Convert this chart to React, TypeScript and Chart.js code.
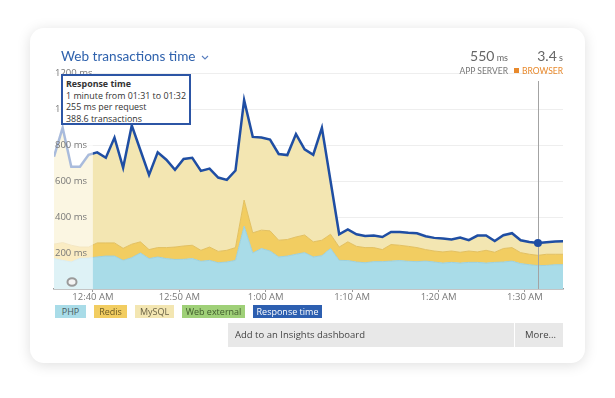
import React, { useEffect, useRef } from "react";
import { Chart, registerables } from "chart.js";

Chart.register(...registerables);

// minutes after 12:00 AM, each point is the middle of a one-minute bucket
const minutes = [
  35.5, 36.5, 37.5, 38.5, 39.5, 40.5, 41.5, 42.5, 43.5, 44.5, 45.5, 46.5, 47.5, 48.5, 49.5,
  50.5, 51.5, 52.5, 53.5, 54.5, 55.5, 56.5, 57.5, 58.5, 59.5, 60.5, 61.5, 62.5, 63.5, 64.5,
  65.5, 66.5, 67.5, 68.5, 69.5, 70.5, 71.5, 72.5, 73.5, 74.5, 75.5, 76.5, 77.5, 78.5, 79.5,
  80.5, 81.5, 82.5, 83.5, 84.5, 85.5, 86.5, 87.5, 88.5, 89.5, 90.5, 91.5, 92.5, 93.5, 94.5,
];

const php = [
  169, 159, 150, 170, 172, 178, 183, 183, 159, 174, 200, 169, 178, 169, 164,
  165, 169, 154, 159, 146, 150, 159, 349, 200, 225, 211, 178, 183, 193, 202,
  178, 185, 225, 159, 158, 150, 146, 152, 152, 155, 158, 154, 152, 155, 150,
  144, 148, 144, 148, 148, 144, 148, 150, 155, 141, 135, 130, 131, 135, 135,
];

const redis = [
  80, 99, 93, 63, 61, 78, 73, 73, 67, 75, 62, 50, 52, 61, 69,
  74, 74, 61, 74, 63, 65, 71, 145, 112, 102, 112, 93, 92, 96, 98,
  84, 86, 79, 74, 104, 87, 84, 78, 67, 92, 85, 83, 78, 64, 61,
  62, 63, 60, 63, 58, 71, 56, 75, 75, 61, 58, 57, 62, 58, 58,
];

const mysql = [
  486, 638, 436, 446, 513, 503, 473, 585, 447, 659, 509, 415, 529, 488, 429,
  483, 486, 441, 436, 410, 391, 428, 555, 533, 515, 507, 475, 461, 572, 476,
  484, 624, 296, 71, 69, 67, 65, 67, 70, 70, 73, 75, 80, 74, 73,
  74, 64, 82, 60, 85, 82, 63, 74, 80, 69, 68, 68, 67, 71, 72,
];

const webExternal = [
  0, 0, 0, 0, 0, 0, 0, 0, 0, 0, 0, 0, 0, 0, 0,
  0, 0, 0, 0, 0, 0, 0, 0, 0, 0, 0, 4, 8, 0, 0,
  0, 0, 0, 0, 0, 0, 0, 0, 0, 0, 0, 0, 0, 0, 0,
  0, 0, 0, 0, 6, 0, 0, 0, 0, 0, 0, 0, 0, 0, 0,
];

const responseTime = [
  735, 896, 679, 679, 746, 759, 729, 841, 673, 908, 771, 634, 759, 718, 662,
  722, 729, 656, 669, 619, 606, 658, 1049, 845, 842, 830, 750, 744, 861, 776,
  746, 895, 600, 304, 331, 304, 295, 297, 289, 317, 316, 312, 310, 293, 284,
  280, 275, 286, 271, 297, 297, 267, 299, 310, 271, 261, 255, 260, 264, 265,
];

const xTickValues = [40, 50, 60, 70, 80, 90];
const xTickLabels = ["12:40 AM", "12:50 AM", "1:00 AM", "1:10 AM", "1:20 AM", "1:30 AM"];
const yTickValues = [200, 400, 600, 800, 1000, 1200];
const yTickLabels = ["200 ms", "400 ms", "600 ms", "800 ms", "1000 ms", "1200 ms"];

const xMin = 35.5;
const xMax = 94.4;
const fadeUntil = 40;
const hoverMinute = 91.5;

const legendItems = [
  { label: "PHP", bg: "#a9dce8", fg: "#4a5a60", w: 31 },
  { label: "Redis", bg: "#f2cd61", fg: "#6b5a24", w: 33 },
  { label: "MySQL", bg: "#f3e6b2", fg: "#6b6346", w: 39 },
  { label: "Web external", bg: "#9fd078", fg: "#3f5a2c", w: 63 },
  { label: "Response time", bg: "#2d5fb0", fg: "#ffffff", w: 69 },
];

const FONT = "'Open Sans', 'Noto Sans', sans-serif";
const TITLE_FONT = "Lato, 'Open Sans', sans-serif";

export default function App() {
  const canvasRef = useRef<HTMLCanvasElement | null>(null);

  useEffect(() => {
    const canvas = canvasRef.current;
    if (!canvas) return;
    const toXY = (arr: number[]) => arr.map((v, i) => ({ x: minutes[i], y: v }));
    const hoverIndex = minutes.indexOf(hoverMinute);

    const overlayPlugin = {
      id: "overlays",
      beforeDatasetDraw(chart: any, args: any) {
        if (args.index !== 4) return;
        const { ctx, chartArea } = chart;
        const x = Math.round(chart.scales.x.getPixelForValue(hoverMinute)) + 0.5;
        ctx.save();
        ctx.strokeStyle = "#a3a3a3";
        ctx.lineWidth = 1;
        ctx.beginPath();
        ctx.moveTo(x, chartArea.top + 8);
        ctx.lineTo(x, chartArea.bottom);
        ctx.stroke();
        ctx.restore();
      },
      afterDatasetsDraw(chart: any) {
        const { ctx, chartArea } = chart;
        const fx = chart.scales.x.getPixelForValue(fadeUntil);
        ctx.save();
        ctx.fillStyle = "rgba(255,255,255,0.62)";
        ctx.fillRect(chartArea.left, chartArea.top, fx - chartArea.left, chartArea.bottom - chartArea.top);
        // small ring icon
        ctx.beginPath();
        ctx.ellipse(chartArea.left + 18, chartArea.bottom - 7, 4.5, 3.8, 0, 0, Math.PI * 2);
        ctx.fillStyle = "#f4f4f4";
        ctx.fill();
        ctx.lineWidth = 2;
        ctx.strokeStyle = "#9a9a9a";
        ctx.stroke();
        ctx.restore();
      },
    };

    const chart = new Chart(canvas, {
      type: "line",
      data: {
        datasets: [
          {
            label: "PHP",
            data: toXY(php),
            backgroundColor: "#a9dce8",
            borderColor: "#9dd0dd",
            borderWidth: 1,
            fill: "origin",
            pointRadius: 0,
            tension: 0,
            yAxisID: "y",
            order: 1,
          },
          {
            label: "Redis",
            data: toXY(redis),
            backgroundColor: "#f2cd61",
            borderColor: "#e2c061",
            borderWidth: 1,
            fill: "-1",
            pointRadius: 0,
            tension: 0,
            yAxisID: "y",
            order: 1,
          },
          {
            label: "MySQL",
            data: toXY(mysql),
            backgroundColor: "#f3e6b2",
            borderColor: "#ecdca4",
            borderWidth: 1,
            fill: "-1",
            pointRadius: 0,
            tension: 0,
            yAxisID: "y",
            order: 1,
          },
          {
            label: "Web external",
            data: toXY(webExternal),
            backgroundColor: "#9fd078",
            borderColor: "#9fd078",
            borderWidth: 0,
            fill: "-1",
            pointRadius: 0,
            tension: 0,
            yAxisID: "y",
            order: 1,
          },
          {
            label: "Response time",
            data: toXY(responseTime),
            borderColor: "#1f4ea3",
            backgroundColor: "#1f4ea3",
            borderWidth: 2.5,
            fill: false,
            pointRadius: responseTime.map((_, i) => (i === hoverIndex ? 4 : 0)),
            pointBorderWidth: 0,
            tension: 0,
            yAxisID: "y2",
            order: 0,
          },
        ],
      },
      options: {
        animation: false,
        responsive: false,
        maintainAspectRatio: false,
        layout: { padding: { left: 54, right: 52, top: 73, bottom: 93 } },
        plugins: { legend: { display: false }, tooltip: { enabled: false } },
        events: [],
        scales: {
          x: {
            type: "linear",
            min: xMin,
            max: xMax,
            afterBuildTicks: (s: any) => {
              s.ticks = xTickValues.map((v) => ({ value: v }));
            },
            afterFit: (s: any) => {
              s.height = 16;
            },
            grid: { display: true, drawOnChartArea: false, drawTicks: true, tickLength: 3, color: "#9a9a9a" },
            border: { display: true, color: "#9a9a9a", width: 1.5 },
            ticks: {
              padding: 0,
              maxRotation: 0,
              autoSkip: false,
              color: "#777",
              font: { family: FONT, size: 9.5 },
              callback: (v: any) => {
                const i = xTickValues.indexOf(Number(v));
                return i >= 0 ? xTickLabels[i] : "";
              },
            },
          },
          y: {
            stacked: true,
            min: 0,
            max: 1200,
            afterBuildTicks: (s: any) => {
              s.ticks = [0, ...yTickValues].map((v) => ({ value: v }));
            },
            afterFit: (s: any) => {
              s.width = 0;
            },
            grid: { color: "#eeeeee", lineWidth: 1, drawTicks: false },
            border: { display: false },
            ticks: { display: false },
          },
          y2: {
            position: "left",
            stacked: false,
            min: 0,
            max: 1200,
            afterBuildTicks: (s: any) => {
              s.ticks = yTickValues.map((v) => ({ value: v }));
            },
            afterFit: (s: any) => {
              s.width = 0;
            },
            grid: { display: false },
            border: { display: false },
            ticks: {
              z: 1,
              mirror: true,
              padding: 1,
              color: "#777",
              font: { family: FONT, size: 9.5 },
              callback: (v: any) => {
                const i = yTickValues.indexOf(Number(v));
                return i >= 0 ? yTickLabels[i] : "";
              },
            },
          },
        },
      },
      plugins: [overlayPlugin],
    } as any);

    return () => chart.destroy();
  }, []);

  let lx = 55;
  const legendEls = legendItems.map((it) => {
    const el = (
      <div
        key={it.label}
        style={{
          position: "absolute",
          left: lx,
          top: 305,
          width: it.w,
          height: 13,
          background: it.bg,
          color: it.fg,
          fontSize: 9,
          lineHeight: "13px",
          textAlign: "center",
          whiteSpace: "nowrap",
        }}
      >
        {it.label}
      </div>
    );
    lx += it.w + 8;
    return el;
  });

  return (
    <div
      style={{
        position: "absolute",
        left: 0,
        top: 0,
        width: 615,
        height: 398,
        background: "#ffffff",
        fontFamily: FONT,
        overflow: "hidden",
      }}
    >
      <div
        style={{
          position: "absolute",
          left: 30,
          top: 28,
          width: 555,
          height: 335,
          borderRadius: 14,
          background: "#fff",
          boxShadow: "0 2px 14px rgba(0,0,0,0.13)",
        }}
      />
      <canvas
        ref={canvasRef}
        width={615}
        height={398}
        style={{ position: "absolute", left: 0, top: 0, width: 615, height: 398 }}
      />
      <div
        style={{
          position: "absolute",
          left: 61,
          top: 46,
          fontSize: 13.6,
          fontFamily: TITLE_FONT,
          color: "#2f62ad",
          whiteSpace: "nowrap",
          lineHeight: "20px",
        }}
      >
        Web transactions time
      </div>
      <svg style={{ position: "absolute", left: 201, top: 55 }} width="8" height="5">
        <polyline points="1,1 4,4 7,1" fill="none" stroke="#5a7fbf" strokeWidth="1.1" />
      </svg>

      <div style={{ position: "absolute", right: 107, top: 46, textAlign: "right", whiteSpace: "nowrap", fontFamily: TITLE_FONT }}>
        <div style={{ color: "#666", lineHeight: "17px" }}>
          <span style={{ fontSize: 14 }}>550</span>
          <span style={{ fontSize: 9 }}> ms</span>
        </div>
        <div style={{ color: "#777", fontSize: 8.5, lineHeight: "10px" }}>APP SERVER</div>
      </div>
      <div style={{ position: "absolute", right: 52, top: 46, textAlign: "right", whiteSpace: "nowrap", fontFamily: TITLE_FONT }}>
        <div style={{ color: "#666", lineHeight: "17px" }}>
          <span style={{ fontSize: 14 }}>3.4</span>
          <span style={{ fontSize: 9 }}> s</span>
        </div>
        <div style={{ color: "#e8892c", fontSize: 8.5, lineHeight: "10px" }}>
          <span style={{ display: "inline-block", width: 5, height: 5, background: "#e8892c", marginRight: 3, verticalAlign: "1px" }} />
          BROWSER
        </div>
      </div>

      <div
        style={{
          position: "absolute",
          left: 61,
          top: 74,
          width: 130,
          height: 51,
          border: "2px solid #2c55a5",
          background: "#fff",
          padding: "2px 0 0 3px",
          fontSize: 8.9,
          lineHeight: "11.5px",
          color: "#333",
          whiteSpace: "nowrap",
          boxSizing: "border-box",
        }}
      >
        <div style={{ fontWeight: 700 }}>Response time</div>
        <div>1 minute from 01:31 to 01:32</div>
        <div>255 ms per request</div>
        <div>388.6 transactions</div>
      </div>

      {legendEls}

      <div
        style={{
          position: "absolute",
          left: 228,
          top: 323,
          width: 286,
          height: 24,
          background: "#e8e8e8",
          fontSize: 9.5,
          lineHeight: "24px",
          color: "#444",
          paddingLeft: 7,
          boxSizing: "border-box",
        }}
      >
        Add to an Insights dashboard
      </div>
      <div
        style={{
          position: "absolute",
          left: 515,
          top: 323,
          width: 48,
          height: 24,
          background: "#e8e8e8",
          fontSize: 9.5,
          lineHeight: "24px",
          color: "#444",
          paddingLeft: 10,
          boxSizing: "border-box",
        }}
      >
        More...
      </div>
    </div>
  );
}
